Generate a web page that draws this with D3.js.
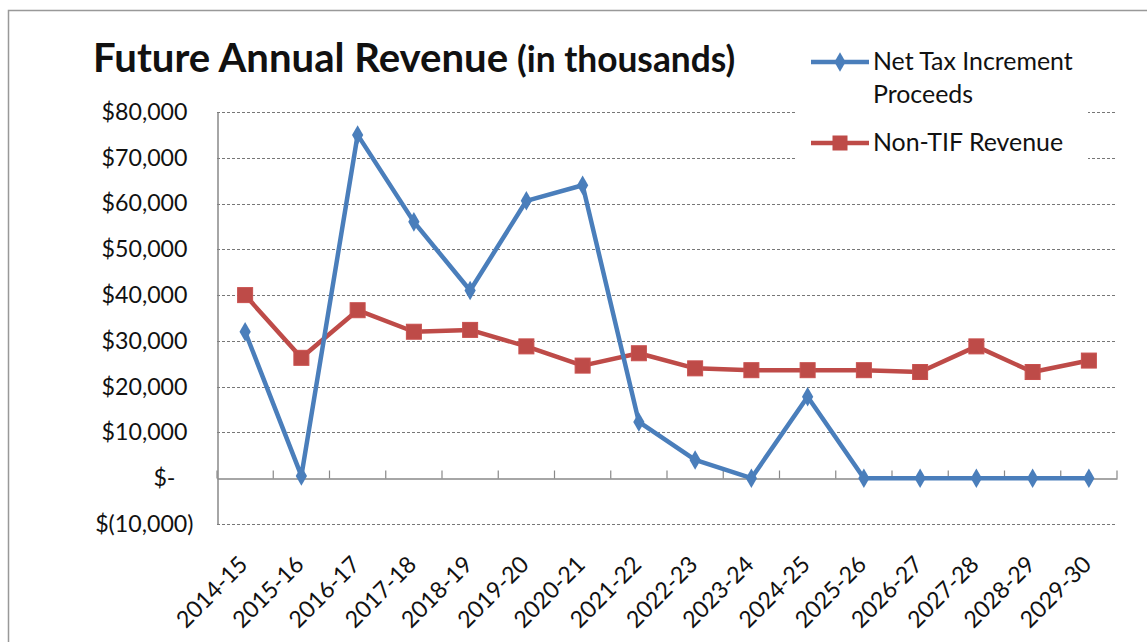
<html>
<head>
  <script src="https://d3js.org/d3.v7.min.js"></script>
  <style>
    body { margin: 0; background: #fff; }
    text { font-family: Lato, "Open Sans", sans-serif; fill: #111; }
  </style>
</head>
<body>
  <svg id="chart" width="1147" height="642"></svg>
  <script>
    // chart data (thousands of dollars)
    const years = ["2014-15","2015-16","2016-17","2017-18","2018-19","2019-20","2020-21","2021-22",
                   "2022-23","2023-24","2024-25","2025-26","2026-27","2027-28","2028-29","2029-30"];
    const netTaxIncrement = [32000, 500, 75000, 56000, 41000, 60600, 64000, 12300,
                             4000, 0, 17800, 0, 0, 0, 0, 0];
    const nonTifRevenue = [40000, 26300, 36700, 32000, 32400, 28800, 24600, 27300,
                           24000, 23600, 23600, 23600, 23200, 28800, 23200, 25700];
    const yTicks = [-10000, 0, 10000, 20000, 30000, 40000, 50000, 60000, 70000, 80000];

    const blue = "#4a7ebb", red = "#be4b48";

    // scale font-size of a text so it spans the given width
    function fit(sel, width) {
      let w = sel.node().getComputedTextLength();
      let fs = parseFloat(sel.style("font-size"));
      sel.style("font-size", (fs * width / w).toFixed(1) + "px");
      return fs * width / w;
    }

    const svg = d3.select("#chart");
    // outer frame
    svg.append("rect").attr("x", 8.5).attr("y", 10.5).attr("width", 1160).attr("height", 660)
       .attr("fill", "none").attr("stroke", "#999").attr("stroke-width", 1.5);

    const margin = {top: 112, left: 217, right: 1117, bottom: 524};

    let x = d3.scaleBand().domain(years).range([margin.left, margin.right]);
    let y = d3.scaleLinear().domain([-10000, 80000]).range([margin.bottom, margin.top]);
    const cx = d => x(d) + x.bandwidth() / 2;

    // gridlines
    svg.append("g").selectAll("line").data(yTicks.filter(d => d != 0))
       .join("line")
       .attr("x1", margin.left).attr("x2", margin.right)
       .attr("y1", d => Math.round(y(d)) + 0.5).attr("y2", d => Math.round(y(d)) + 0.5)
       .attr("stroke", "#777").attr("stroke-width", 1).attr("stroke-dasharray", "3,2");

    // left axis, accounting style labels
    let fmt = d => d == 0 ? "$-" : d < 0 ? "$(" + d3.format(",")(-d) + ")" : "$" + d3.format(",")(d);
    let leftAxis = d3.axisLeft(y).tickValues(yTicks).tickFormat(fmt).tickSize(0).tickPadding(24);
    let ly = svg.append("g").attr("transform", `translate(${margin.left + 0.5},0)`).call(leftAxis);
    ly.select(".domain").attr("stroke", "#888").attr("stroke-width", 1.5);
    ly.selectAll("text").style("font-size", "20px").attr("fill", "#111")
      .style("font-family", "Lato, 'Open Sans', sans-serif")
      .attr("dx", d => d == 0 ? -18 : d > 0 ? -6 : 0);
    let fs = fit(ly.selectAll("text").filter(d => d == 80000), 86);
    ly.selectAll("text").style("font-size", fs.toFixed(1) + "px");

    // zero axis with category ticks pointing up
    let bottomAxis = d3.axisBottom(x).tickSize(0).tickFormat("");
    let zeroY = Math.round(y(0)) + 0.5;
    let bx = svg.append("g").attr("transform", `translate(0,${zeroY})`).call(bottomAxis);
    bx.select(".domain").attr("stroke", "#888").attr("stroke-width", 1.5);
    svg.append("g").selectAll("line").data(years.concat(["end"]))
       .join("line")
       .attr("x1", (d, i) => margin.left + i * x.step()).attr("x2", (d, i) => margin.left + i * x.step())
       .attr("y1", zeroY).attr("y2", zeroY - 8)
       .attr("stroke", "#888").attr("stroke-width", 1.2);

    // category labels
    svg.append("g").selectAll("text").data(years)
       .join("text")
       .attr("transform", d => `translate(${cx(d) + 4},${566}) rotate(-45)`)
       .attr("text-anchor", "end")
       .style("font-size", fs.toFixed(1) + "px")
       .text(d => d);

    // lines
    const line = d3.line().x((d, i) => cx(years[i])).y(d => y(d));
    svg.append("path").datum(nonTifRevenue).attr("d", line)
       .attr("fill", "none").attr("stroke", red).attr("stroke-width", 4.5).attr("stroke-linejoin", "round");
    svg.append("g").selectAll("rect").data(nonTifRevenue)
       .join("rect")
       .attr("x", (d, i) => cx(years[i]) - 7.5).attr("y", d => y(d) - 7.5)
       .attr("width", 15).attr("height", 15).attr("fill", red).attr("stroke", "#c9504e");

    svg.append("path").datum(netTaxIncrement).attr("d", line)
       .attr("fill", "none").attr("stroke", blue).attr("stroke-width", 4.5).attr("stroke-linejoin", "round");
    svg.append("g").selectAll("path.dia").data(netTaxIncrement)
       .join("path")
       .attr("class", "dia")
       .attr("d", d3.symbol(d3.symbolDiamond, 110))
       .attr("transform", (d, i) => `translate(${cx(years[i])},${y(d)})`)
       .attr("fill", blue);

    // legend (white box covering gridlines)
    let legend = svg.append("g");
    legend.append("rect").attr("x", 795).attr("y", 40).attr("width", 293).attr("height", 135).attr("fill", "#fff");
    const legendItems = [
      {label: ["Net Tax Increment", "Proceeds"], color: blue, y: 62, marker: "diamond"},
      {label: ["Non-TIF Revenue"], color: red, y: 143, marker: "square"}
    ];
    let legendTexts = [];
    legendItems.forEach(item => {
      legend.append("line").attr("x1", 811).attr("x2", 869).attr("y1", item.y).attr("y2", item.y)
            .attr("stroke", item.color).attr("stroke-width", 4.5);
      if (item.marker == "diamond") {
        legend.append("path").attr("d", d3.symbol(d3.symbolDiamond, 110))
              .attr("transform", `translate(840,${item.y})`).attr("fill", item.color);
      } else {
        legend.append("rect").attr("x", 832.5).attr("y", item.y - 7.5).attr("width", 15).attr("height", 15)
              .attr("fill", item.color);
      }
      item.label.forEach((t, j) => {
        legendTexts.push(legend.append("text").attr("x", 873).attr("y", item.y + 8 + j * 33)
              .style("font-size", "20px").text(t));
      });
    });
    let lfs = fit(legendTexts[0], 200);
    legendTexts.forEach(t => t.style("font-size", lfs.toFixed(1) + "px"));

    // title
    let t1 = svg.append("text").attr("x", 93).attr("y", 72)
                .style("font-size", "32px").style("font-weight", "bold").text("Future Annual Revenue");
    fit(t1, 415);
    let t2 = svg.append("text").attr("x", 517).attr("y", 72)
                .style("font-size", "24px").style("font-weight", "bold").text("(in thousands)");
    fit(t2, 218);
  </script>
</body>
</html>
